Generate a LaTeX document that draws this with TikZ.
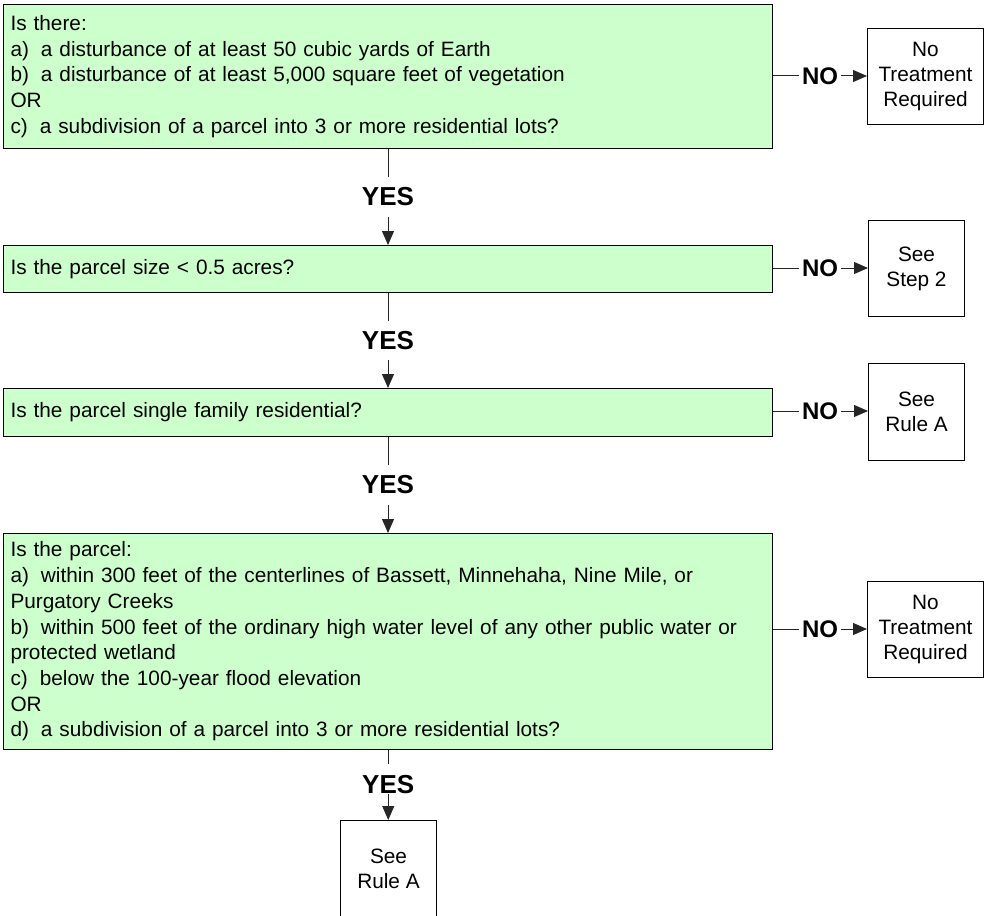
\documentclass[tikz,border=0pt]{standalone}
\usepackage{fontspec}
\setmainfont{Liberation Sans}
\usetikzlibrary{arrows.meta,calc,positioning}
\definecolor{qgreen}{HTML}{CCFFCC}
\newcommand{\opt}[1]{#1)\hspace{12pt}}
\tikzset{
  qbox/.style={draw=black, fill=qgreen, line width=1pt, anchor=north west,
    text width=755pt, align=left, inner xsep=7pt, inner ysep=0pt,
    font=\fontsize{20.8}{25.7}\selectfont},
  endbox/.style={draw=black, fill=white, line width=1pt, anchor=north west,
    align=center, inner sep=0pt, font=\fontsize{20.8}{25}\selectfont},
  yeslbl/.style={font=\bfseries\fontsize{26}{26}\selectfont, inner sep=0pt, minimum height=39pt},
  nolbl/.style={font=\bfseries\fontsize{24}{24}\selectfont, inner xsep=3pt, inner ysep=0pt},
  link/.style={line width=1pt, black!85},
  tip/.style={link, -{Triangle[length=14pt,width=12pt]}},
}
\begin{document}
\begin{tikzpicture}[x=1pt, y=-1pt]
            \useasboundingbox (0,0) rectangle (984,915);
            % questions
            \node[qbox, minimum height=144pt] (q1) at (3,4) {Is there:\\
              \opt{a}a disturbance of at least 50 cubic yards of Earth\\
              \opt{b}a disturbance of at least 5,000 square feet of vegetation\\
              OR\\
              \opt{c}a subdivision of a parcel into 3 or more residential lots?};
            \node[qbox, minimum height=47pt] (q2) at (3,245) {Is the parcel size < 0.5 acres?};
            \node[qbox, minimum height=48pt] (q3) at (3,388) {Is the parcel single family residential?};
            \node[qbox, minimum height=216pt] (q4) at (3,533) {Is the parcel:\\
              \opt{a}within 300 feet of the centerlines of Bassett, Minnehaha, Nine Mile, or\\
              Purgatory Creeks\\
              \opt{b}within 500 feet of the ordinary high water level of any other public water or\\
              protected wetland\\
              \opt{c}below the 100-year flood elevation\\
              OR\\
              \opt{d}a subdivision of a parcel into 3 or more residential lots?};
            % outcomes
            \node[endbox, minimum width=116pt, minimum height=96pt] (r1) at (867,28) {No\\Treatment\\Required};
            \node[endbox, minimum width=96pt, minimum height=96pt] (r2) at (868,220) {See\\Step 2};
            \node[endbox, minimum width=96pt, minimum height=97pt] (r3) at (868,363) {See\\Rule A};
            \node[endbox, minimum width=116pt, minimum height=96pt] (r4) at (867,581) {No\\Treatment\\Required};
            \node[endbox, minimum width=96pt, minimum height=96pt] (r5) at (340,820) {See\\Rule A};
            % NO branches
            \node[nolbl] (no1) at (820,76) {NO};
            \node[nolbl] (no2) at (820,268) {NO};
            \node[nolbl] (no3) at (820,411) {NO};
            \node[nolbl] (no4) at (820,629) {NO};
            \foreach \i in {1,...,4} {
              \draw[link] (no\i.west -| q\i.east) -- (no\i.west);
              \draw[tip] (no\i.east) -- (no\i.east -| r\i.west);
            }
            % YES branches
            \node[yeslbl] (yes1) at ($(q1.south)!0.5!(q2.north)$) {YES};
            \node[yeslbl] (yes2) at ($(q2.south)!0.5!(q3.north)$) {YES};
            \node[yeslbl] (yes3) at ($(q3.south)!0.5!(q4.north)$) {YES};
            \node[yeslbl, minimum height=14pt] (yes4) at ($(q4.south)!0.5!(r5.north)$) {YES};
            \draw[link] (q1.south) -- (yes1.north);
            \draw[tip] (yes1.south) -- (q2.north);
            \draw[link] (q2.south) -- (yes2.north);
            \draw[tip] (yes2.south) -- (q3.north);
            \draw[link] (q3.south) -- (yes3.north);
            \draw[tip] (yes3.south) -- (q4.north);
            \draw[link] (q4.south) -- ++(0,14);
            \draw[tip] (yes4.south) -- (yes4.south |- r5.north);
        \end{tikzpicture}
\end{document}
